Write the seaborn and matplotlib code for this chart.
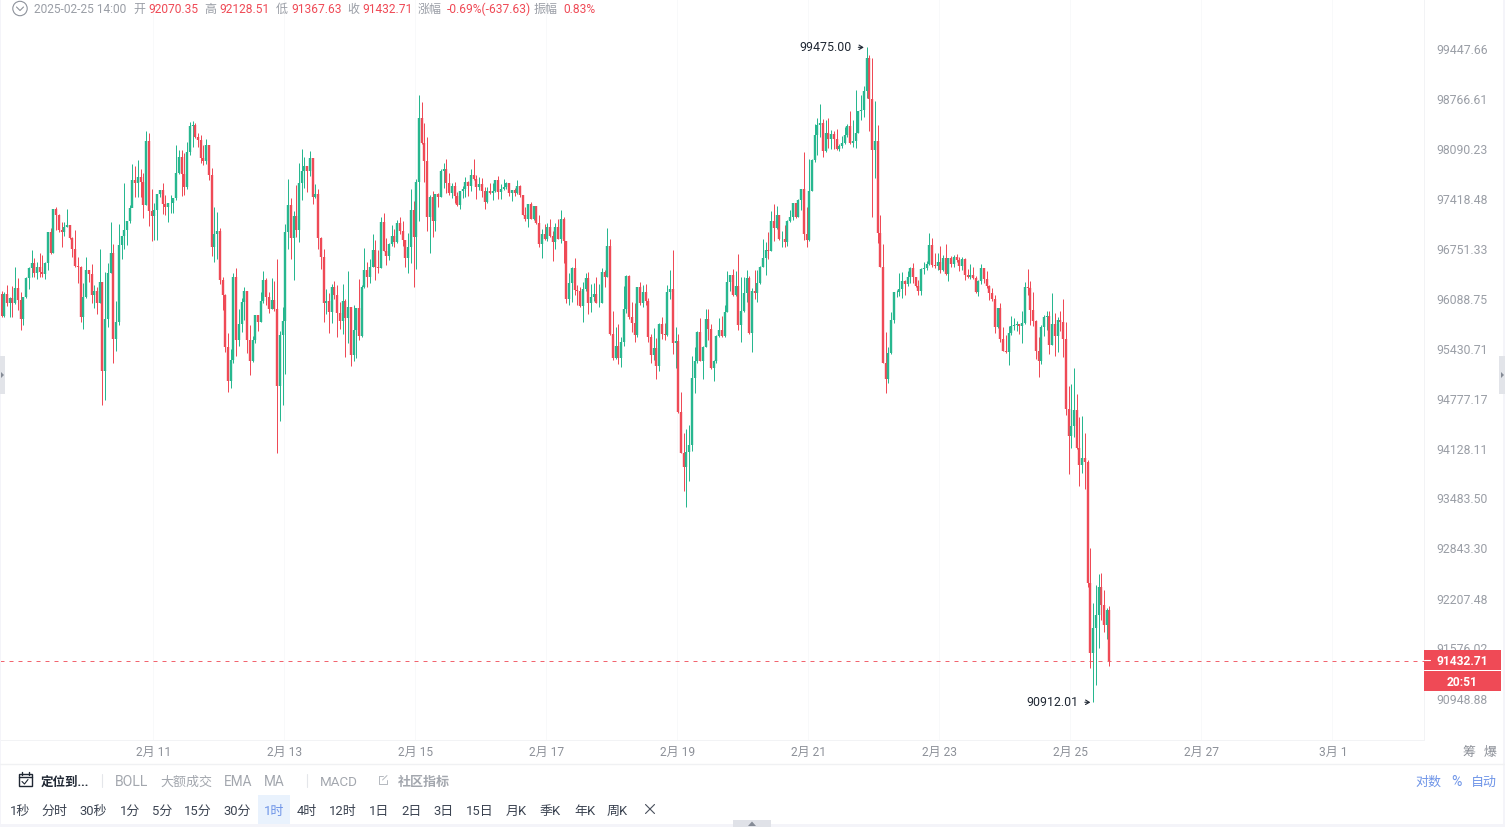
import numpy as np
import pandas as pd
import seaborn as sns
from matplotlib import pyplot as plt
from matplotlib.patches import Circle, Polygon, Rectangle
from matplotlib.transforms import ScaledTranslation

# hourly BTC candles, first one is 02-08 16:00
opens = [
    96162,95872,96162,96039,96105,96039,96237,96083,95828,96118,
    96370,96502,96568,96445,96524,96458,96427,96568,96984,96700,
    97287,97211,97011,96984,97047,97073,96900,96753,96533,96515,
    95863,96118,96480,96427,96153,96197,96048,96321,95155,95828,
    96445,96700,95565,95793,96811,96931,97011,97127,97300,97680,
    97645,97716,97654,97344,98210,97260,97198,97278,97492,97546,
    97358,97322,97367,97376,97434,97770,97985,97761,97591,98057,
    98408,98417,98255,98219,97972,97941,98152,97752,96789,96958,
    96993,96348,96153,95460,95024,95295,96392,95556,95766,96056,
    96206,95556,95286,95556,95885,95797,96065,96348,96118,95969,
    96083,95960,94954,95617,95802,96984,97340,96905,97198,97011,
    97636,97797,97868,97806,97972,97456,97492,96905,96656,96048,
    96074,95929,96250,96149,95916,95810,96074,95841,95986,95356,
    95687,95973,95609,96259,96480,96392,96524,96746,96524,96506,
    97118,96736,96665,96825,96931,96851,97100,96993,96878,96638,
    96780,97278,96914,97654,98516,98174,97932,97180,97447,97127,
    97492,97456,97797,97823,97645,97501,97600,97465,97340,97529,
    97556,97654,97600,97743,97690,97582,97627,97529,97390,97529,
    97502,97529,97681,97524,97556,97582,97645,97502,97547,97511,
    97600,97480,97211,97153,97359,97162,97332,97100,96825,96958,
    96887,97047,96931,96851,97047,96896,97162,96869,96101,96304,
    96506,96216,96207,96004,96225,96370,96048,96128,96163,96048,
    96048,96454,96392,96797,95635,95321,95478,95321,95530,95969,
    96401,95863,95775,95622,96251,96048,96189,96075,95600,95364,
    95451,95216,95767,95635,95622,96189,96233,95521,95539,94616,
    94088,93906,94096,94183,95060,95286,95662,95285,95469,95828,
    95696,95190,95277,95609,95687,95609,95929,96321,96414,96145,
    96268,95758,95938,96171,96370,95644,96207,96171,96303,96524,
    96635,96745,96736,97125,97033,97206,96887,96887,96851,97135,
    97188,97367,97188,97412,97555,96958,96878,97537,97949,98287,
    98422,98453,98075,98309,98237,98300,98228,98093,98138,98183,
    98287,98408,98174,98210,98318,98616,98625,98887,99331,98769,
    98084,98201,96966,96524,95260,95050,95382,95820,96185,96189,
    96225,96333,96293,96390,96501,96382,96267,96205,96487,96501,
    96558,96811,96545,96532,96585,96479,96634,96426,96638,96558,
    96647,96612,96532,96629,96412,96382,96412,96368,96187,96338,
    96501,96355,96267,96179,96091,95722,95972,95564,95416,95398,
    95643,95739,95752,95766,95739,95774,96249,96236,95950,95809,
    95416,95285,95722,95853,95871,95490,95766,95608,95818,95792,
    95573,94660,94304,94434,94641,94148,93928,94019,93962,92417,
    91536,91848,92012,92366,92138,91885,92070.35]
highs = [
    96202,96193,96281,96118,96268,96515,96370,96193,96127,96383,
    96524,96746,96634,96590,96700,96678,96590,96984,97033,97287,
    97313,97224,97122,97122,97287,97078,96922,97011,96656,96533,
    96304,96647,96480,96559,96281,96259,96753,96321,96458,96568,
    97122,96825,96065,97091,96931,97636,97135,97344,97895,97868,
    97949,97823,97779,98336,98309,97555,97367,97492,97546,97636,
    97479,97367,97479,97434,98147,98084,98084,98048,98196,98467,
    98480,98453,98318,98287,98152,98228,98152,97837,97313,97255,
    97038,96392,96162,95652,95434,96445,96506,95960,96105,96259,
    96206,95753,95609,95885,95890,96188,96462,96370,96188,96370,
    96339,96625,95678,95986,97087,97689,97443,97269,97613,97905,
    98093,97994,97868,98075,97972,97627,97555,96922,96753,96224,
    96171,96290,96330,96281,96061,96295,96091,96471,95995,96017,
    95973,96357,96281,96768,96590,96621,96953,96878,96746,97189,
    97242,96905,96834,97073,97020,97145,97189,97135,96878,96967,
    97564,97402,97689,98823,98733,98444,98255,97483,97528,97492,
    97501,97823,97914,97963,97770,97636,97658,97523,97529,97600,
    97726,97672,97833,97959,97743,97717,97708,97582,97582,97645,
    97636,97681,97735,97627,97699,97654,97645,97547,97573,97681,
    97618,97480,97323,97359,97386,97332,97332,97207,97020,97091,
    97109,97162,96993,97100,97153,97278,97180,96869,96436,96524,
    96634,96282,96251,96322,96445,96458,96295,96313,96392,96295,
    96506,96480,97038,96887,95938,95723,95767,95591,96269,96410,
    96410,96057,96048,96260,96326,96286,96295,96106,95635,95710,
    95578,95775,95863,95775,96278,96480,96744,95723,95631,94873,
    94339,94399,94451,95347,95469,95679,95842,95477,95960,95960,
    95767,95294,95622,95850,95872,96017,96467,96414,96489,96471,
    96692,96392,96383,96480,96401,96238,96480,96480,96533,96887,
    96851,96989,97268,97358,97331,97206,96993,97078,97144,97277,
    97367,97376,97421,97555,98057,97322,97958,97958,98436,98512,
    98706,98498,98489,98512,98354,98345,98363,98165,98273,98390,
    98431,98607,98489,98896,98616,98828,98950,99475,99372,99326,
    98751,98422,97211,96825,95666,95469,95929,96194,96216,96436,
    96456,96346,96470,96523,96576,96390,96346,96501,96581,96603,
    96966,96909,96709,96700,96802,96678,96820,96638,96665,96678,
    96691,96647,96647,96634,96487,96558,96514,96399,96346,96554,
    96501,96465,96280,96236,96148,95972,96038,95722,95621,95739,
    95871,95840,95805,95766,95937,96324,96487,96333,96192,95818,
    95591,95752,95884,95941,95941,96170,95906,95862,95941,96091,
    95792,94954,94980,95185,94849,94555,94564,94339,93993,92866,
    92163,92392,92532,92545,92328,92104,92128.51]
lows = [
    95863,95863,96004,95863,95854,96030,95951,95687,95749,96109,
    96233,96392,96383,96357,96392,96392,96357,96480,96691,96700,
    97011,96989,96780,96931,97047,96896,96656,96524,96313,95797,
    95696,96105,96326,96039,95977,95898,96039,94706,94771,95722,
    96445,95251,95417,95757,96630,96753,96811,97109,97358,97447,
    97456,97447,97171,97344,97065,96860,96878,96878,97456,97224,
    97211,97122,97242,97233,97411,97761,97465,97479,97555,98016,
    98129,98241,98129,97905,97882,97895,97680,96669,96590,96621,
    96295,95951,95404,94880,94924,95251,95347,95478,95665,95819,
    95382,95094,95268,95512,95678,95793,96039,96013,95907,95969,
    95942,94088,94494,94706,95111,96762,96621,96348,96922,96851,
    97411,97568,97523,97734,97358,97434,96762,96497,95793,95898,
    95643,95784,96100,95600,95705,95635,95329,95521,95216,95286,
    95321,95556,95600,96242,96259,96313,96524,96348,96436,96506,
    96727,96550,96612,96798,96789,96842,96958,96798,96515,96445,
    96568,96250,96489,97135,98165,97654,97002,96700,96922,96993,
    97322,97447,97568,97501,97474,97438,97367,97331,97296,97439,
    97457,97466,97529,97681,97421,97547,97457,97296,97368,97498,
    97412,97520,97430,97421,97547,97564,97466,97403,97466,97493,
    97457,97207,97126,97055,97153,97144,97091,96780,96638,96878,
    96869,96922,96603,96762,96887,96842,96568,96039,96013,96057,
    96150,96022,95995,95793,96207,95898,95929,96075,96039,95986,
    96048,96251,96392,95626,95295,95303,95242,95207,95478,95907,
    95828,95666,95530,95600,96022,95995,96013,95530,95251,95295,
    95042,95147,95565,95556,95609,96101,95373,95190,94607,94079,
    93596,93381,93725,94113,94860,95251,95277,95042,95460,95556,
    95181,95024,95251,95591,95600,95600,95925,96207,96136,96136,
    95687,95530,95929,96061,95635,95403,96101,96052,96295,96516,
    96410,96621,96736,96869,97029,96878,96781,96790,96798,97122,
    97144,97170,97188,97277,96878,96790,96869,97528,97927,98017,
    98264,97995,98062,98107,98093,98093,98084,98075,98107,98165,
    98264,98165,98129,98107,98309,98489,98535,98783,98345,97179,
    97703,96834,96516,95251,94867,94998,95373,95776,96127,96136,
    96103,96152,96267,96311,96302,96258,96152,96143,96426,96479,
    96549,96523,96501,96479,96444,96470,96408,96338,96523,96523,
    96589,96470,96479,96346,96368,96364,96355,96179,96135,96293,
    96311,96236,96082,96073,95643,95709,95529,95407,95390,95224,
    95621,95687,95678,95634,95521,95766,96148,95752,95739,95302,
    95076,95241,95608,95687,95372,95486,95346,95403,95674,95337,
    94577,93812,94144,94295,94131,93658,93820,93615,92366,91348,
    90912.01,91131,91595,91948,91797,91709,91367.63]
closes = [
    95872,96162,96039,96105,96039,96237,96083,95828,96118,96370,
    96502,96568,96445,96524,96458,96427,96568,96984,96700,97287,
    97211,97011,96984,97047,97073,96900,96753,96533,96515,95863,
    96118,96480,96427,96153,96197,96048,96321,95155,95828,96445,
    96700,95565,95793,96811,96931,97011,97127,97300,97680,97645,
    97716,97654,97344,98210,97260,97198,97278,97492,97546,97358,
    97322,97367,97376,97434,97770,97985,97761,97591,98057,98408,
    98417,98255,98219,97972,97941,98152,97752,96789,96958,96993,
    96348,96153,95460,95024,95295,96392,95556,95766,96056,96206,
    95556,95286,95556,95885,95797,96065,96348,96118,95969,96083,
    95960,94954,95617,95802,96984,97340,96905,97198,97011,97636,
    97797,97868,97806,97972,97456,97492,96905,96656,96048,96074,
    95929,96250,96149,95916,95810,96074,95841,95986,95356,95687,
    95973,95609,96259,96480,96392,96524,96746,96524,96506,97118,
    96736,96665,96825,96931,96851,97100,96993,96878,96638,96780,
    97278,96914,97654,98516,98174,97932,97180,97447,97127,97492,
    97456,97797,97823,97645,97501,97600,97465,97340,97529,97556,
    97654,97600,97743,97690,97582,97627,97529,97390,97529,97502,
    97529,97681,97524,97556,97582,97645,97502,97547,97511,97600,
    97480,97211,97153,97359,97162,97332,97100,96825,96958,96887,
    97047,96931,96851,97047,96896,97162,96869,96101,96304,96506,
    96216,96207,96004,96225,96370,96048,96128,96163,96048,96048,
    96454,96392,96797,95635,95321,95478,95321,95530,95969,96401,
    95863,95775,95622,96251,96048,96189,96075,95600,95364,95451,
    95216,95767,95635,95622,96189,96233,95521,95539,94616,94088,
    93906,94096,94183,95060,95286,95662,95285,95469,95828,95696,
    95190,95277,95609,95687,95609,95929,96321,96414,96145,96268,
    95758,95938,96171,96370,95644,96207,96171,96303,96524,96635,
    96745,96736,97125,97033,97206,96887,96887,96851,97135,97188,
    97367,97188,97412,97555,96958,96878,97537,97949,98287,98422,
    98453,98075,98309,98237,98300,98228,98093,98138,98183,98287,
    98408,98174,98210,98318,98616,98625,98887,99331,98769,98084,
    98201,96966,96524,95260,95050,95382,95820,96185,96189,96225,
    96333,96293,96390,96501,96382,96267,96205,96487,96501,96558,
    96811,96545,96532,96585,96479,96634,96426,96638,96558,96647,
    96612,96532,96629,96412,96382,96412,96368,96187,96338,96501,
    96355,96267,96179,96091,95722,95972,95564,95416,95398,95643,
    95739,95752,95766,95739,95774,96249,96236,95950,95809,95416,
    95285,95722,95853,95871,95490,95766,95608,95818,95792,95573,
    94660,94304,94434,94641,94148,93928,94019,93962,92417,91536,
    91848,92012,92366,92138,91885,92070.35,91432.71]

price_ticks = [99447.66, 98766.61, 98090.23, 97418.48, 96751.33, 96088.75, 95430.71,
               94777.17, 94128.11, 93483.50, 92843.30, 92207.48, 91576.02, 90948.88]
first_candle = '2025-02-08 16:00'
date_ticks = ['2025-02-11', '2025-02-13', '2025-02-15', '2025-02-17', '2025-02-19',
              '2025-02-21', '2025-02-23', '2025-02-25', '2025-02-27', '2025-03-01']
date_labels = ['2月 11', '2月 13', '2月 15', '2月 17', '2月 19',
               '2月 21', '2月 23', '2月 25', '2月 27', '3月 1']

tools_top = ['BOLL', '大额成交', 'EMA', 'MA', 'MACD']
tools_top_x = [115, 160, 224, 264, 320]
tools_top_size = [14, 13, 13.6, 13.6, 13.4]
periods = ['1秒', '分时', '30秒', '1分', '5分', '15分', '30分', '1时', '4时', '12时',
           '1日', '2日', '3日', '15日', '月K', '季K', '年K', '周K']
periods_x = [10, 41.5, 79.5, 120, 152, 184, 223.5, 264, 297, 329, 369, 401, 433, 466, 506, 540, 574, 607]

RED = '#ef4a56'
GREEN = '#27b78f'
GREY = '#9a9ea6'
DARK = '#1f2733'
BLUE = '#6f95e8'
PX = 0.72  # points per pixel at dpi 100

sns.set_theme(style='white')
plt.rcParams['font.family'] = ['Roboto', 'Noto Sans CJK SC', 'DejaVu Sans']

df = pd.DataFrame({'open': opens, 'high': highs, 'low': lows, 'close': closes})
df['hour'] = np.arange(len(df))
df['side'] = np.where(df['close'] >= df['open'], 'up', 'down')
wicks = df.melt(id_vars=['hour', 'side'], value_vars=['high', 'low'], value_name='price')
bodies = df.melt(id_vars=['hour', 'side'], value_vars=['open', 'close'], value_name='price')

fig = plt.figure(figsize=(15.05, 8.28), dpi=100, facecolor='white')
ax = fig.add_axes([0, (828 - 741) / 828, 1424 / 1505, 741 / 828])
ax.set_yscale('log')

palette = {'up': GREEN, 'down': RED}
sns.lineplot(data=wicks, x='hour', y='price', hue='side', units='hour', estimator=None,
             palette=palette, lw=1.0 * PX, legend=False, ax=ax, solid_capstyle='butt')
sns.lineplot(data=bodies, x='hour', y='price', hue='side', units='hour', estimator=None,
             palette=palette, lw=2.4 * PX, legend=False, ax=ax, solid_capstyle='butt')

# price axis is log, ticks sit every 50 px
k = np.log(price_ticks[0] / price_ticks[-1]) / 650
ax.set_ylim(price_ticks[-1] * np.exp(-k * 40.5), price_ticks[0] * np.exp(k * 50.5))
ax.set_xlim(-1.5 / 2.729, 1422.5 / 2.729)

start = pd.Timestamp(first_candle)
tick_hours = [(pd.Timestamp(d) - start) / pd.Timedelta(hours=1) - 0.55 for d in date_ticks]
ax.set_xticks(tick_hours)
ax.set_xticklabels(date_labels, color='#8c9098', fontsize=12 * PX)
ax.tick_params(axis='x', length=0, pad=3.5)
ax.grid(axis='x', color='#f8f9fa', lw=1 * PX)
ax.set_axisbelow(True)
ax.set_xlabel('')
ax.set_ylabel('')

ax.minorticks_off()
ax.yaxis.tick_right()
ax.set_yticks(price_ticks)
ax.set_yticklabels([f'{p:.2f}' for p in price_ticks], color=GREY, fontsize=12.2 * PX)
ax.tick_params(axis='y', which='major', right=True, length=6 * PX, width=1 * PX, color='#f1f2f4', pad=6 * PX)
ax.tick_params(axis='y', which='minor', right=False)

# small nudges so the labels land where the reference has them
for t in ax.get_yticklabels():
    t.set_transform(t.get_transform() + ScaledTranslation(0, 2 / 100, fig.dpi_scale_trans))
for t in ax.get_xticklabels():
    t.set_transform(t.get_transform() + ScaledTranslation(1 / 100, 0, fig.dpi_scale_trans))

sns.despine(ax=ax, left=True, top=True, right=False)
for side in ['bottom', 'right']:
    ax.spines[side].set_color('#f2f3f5')
    ax.spines[side].set_linewidth(1 * PX)

ax.axhline(closes[-1], color=RED, lw=1 * PX, ls=(0, (4, 5)), alpha=0.85)

peak = int(np.argmax(highs))
bottom = int(np.argmin(lows))
arrow = dict(arrowstyle='->,head_length=0.3,head_width=0.18', color=DARK, lw=0.8, shrinkA=2.5, shrinkB=2)
ax.annotate(f'{highs[peak]:.2f}', xy=(peak, highs[peak]), xytext=(-15, 1), textcoords='offset pixels',
            ha='right', va='center', color=DARK, fontsize=12.4 * PX, arrowprops=arrow)
ax.annotate(f'{lows[bottom]:.2f}', xy=(bottom, lows[bottom]), xytext=(-15, 1), textcoords='offset pixels',
            ha='right', va='center', color=DARK, fontsize=12.4 * PX, arrowprops=arrow)

# everything around the chart, in pixels of the page
ui = fig.add_axes([0, 0, 1, 1], facecolor='none')
ui.set_xlim(0, 1505)
ui.set_ylim(828, 0)
ui.axis('off')


def label(x, y, text, color=GREY, size=12, **kw):
    kw.setdefault('ha', 'left')
    ui.text(x, y, text, color=color, fontsize=size * PX, va='center_baseline', **kw)


def box(x0, y0, x1, y1, color, **kw):
    ui.add_patch(Rectangle((x0, y0), x1 - x0, y1 - y0, fc=color, ec='none', **kw))


# header line
ui.add_patch(Circle((20, 9.5), 7.2, fc='none', ec='#8d929b', lw=0.8))
ui.plot([16.5, 20, 23.5], [8, 11.5, 8], color='#8d929b', lw=0.8)
for x, text, color in [
    (34, '2025-02-25 14:00', GREY), (133, '开', GREY), (148, '92070.35', RED),
    (204, '高', GREY), (219, '92128.51', RED), (276, '低', GREY), (291, '91367.63', RED),
    (347, '收', GREY), (362, '91432.71', RED), (418, '涨幅', GREY), (447, '-0.69%(-637.63)', RED),
    (534, '振幅', GREY), (563, '0.83%', RED)]:
    label(x, 7.7, text, color)

# price tags on the right
box(1424, 651, 1501, 671, RED)
box(1424, 672, 1501, 692, RED)
label(1462, 660, f'{closes[-1]:.2f}', 'white', weight='bold', ha='center')
label(1462, 681, '20:51', 'white', weight='bold', ha='center')
ui.plot([1424, 1430], [661, 661], color='white', lw=0.8)
label(1469, 751, '筹', '#8c9098', 13, ha='center')
label(1490, 751, '爆', '#8c9098', 13, ha='center')

# toolbars
ui.plot([0, 1505], [765, 765], color='#f0f1f3', lw=1)
ui.add_patch(Rectangle((18.5, 775.5), 13, 12, fc='none', ec=DARK, lw=1))
ui.plot([18.5, 31.5], [778.5, 778.5], color=DARK, lw=1)
ui.plot([21.5, 21.5], [773.5, 776], color=DARK, lw=1)
ui.plot([28.5, 28.5], [773.5, 776], color=DARK, lw=1)
ui.plot([22, 24.5, 28], [782.5, 785, 780.5], color=DARK, lw=0.8)
label(41, 781, '定位到...', DARK, 12.5, weight='bold')
for x in [102, 307]:
    ui.plot([x, x], [775, 788], color='#e4e6ea', lw=0.8)
for x, text, size in zip(tools_top_x, tools_top, tools_top_size):
    label(x, 781, text, '#a3a7ae', size)
ui.plot([383, 378.5, 378.5, 386.5, 386.5], [777, 777, 785, 785, 781], color='#b4b8be', lw=0.7)
ui.plot([382.5, 387], [781, 776.5], color='#b4b8be', lw=0.7)
label(398, 781, '社区指标', '#a3a7ae', 13, weight='bold')
label(1415, 781, '对数', BLUE, 13)
label(1451, 781, '%', BLUE, 14)
label(1471, 781, '自动', BLUE, 13)

box(258, 796, 290, 825, '#e9f2fd')
for x, text in zip(periods_x, periods):
    label(x, 810, text, BLUE if text == '1时' else '#3c4452', 13)
ui.plot([645.5, 654.5], [805.5, 814.5], color='#4a515d', lw=0.8)
ui.plot([645.5, 654.5], [814.5, 805.5], color='#4a515d', lw=0.8)

# page edges and the small handles
box(0, 825, 1505, 828, '#f4f4f9')
box(0, 0, 1, 825, '#f4f4f9')
box(1503, 0, 1505, 825, '#f4f4f9')
box(733, 821, 771, 828, '#e0e2e8')
ui.add_patch(Polygon([(748, 827), (756, 827), (752, 822.5)], fc='#858b96', ec='none'))
box(0, 357, 5, 395, '#e2e4e9')
ui.add_patch(Polygon([(1, 373), (1, 379), (4, 376)], fc='#858b96', ec='none'))
box(1499, 357, 1505, 395, '#e2e4e9')
ui.add_patch(Polygon([(1501, 373), (1501, 379), (1504, 376)], fc='#858b96', ec='none'))

fig.savefig('out.png', dpi=100, facecolor='white')
